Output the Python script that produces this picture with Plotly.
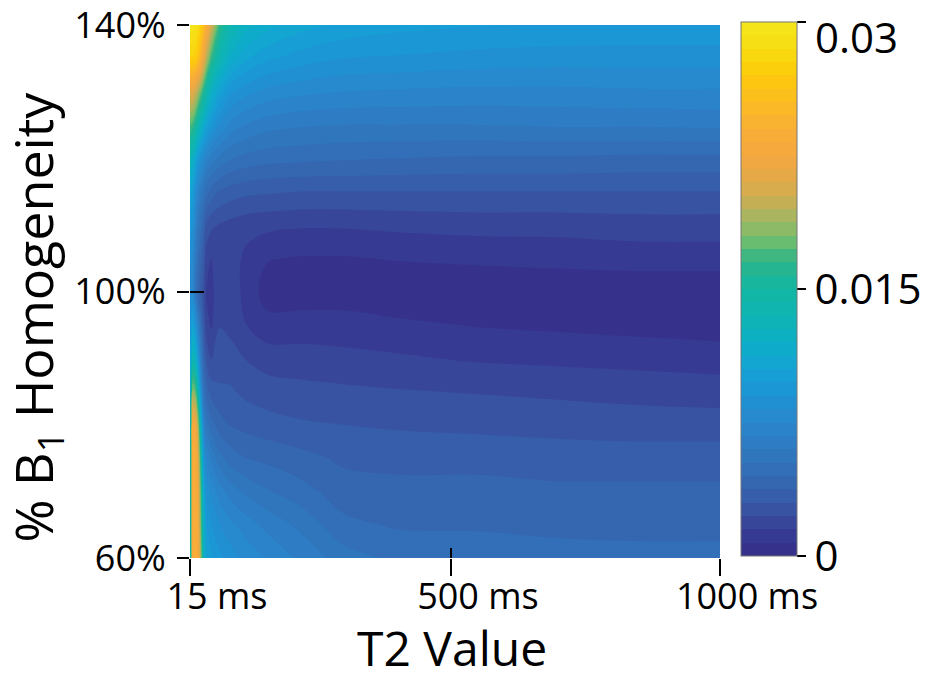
import plotly.graph_objects as go

# T2 values (ms) along x, B1 homogeneity (%) along y
t2_ms = [15, 20, 25, 30, 35, 40, 45, 55, 70, 90, 120, 160, 220, 300, 400, 550, 700, 850, 1000]
b1_pct = [60, 65, 70, 75, 80, 85, 90, 95, 100, 105, 110, 115, 120, 125, 130, 135, 140]

# error values, one row per B1 level (bottom to top), columns follow t2_ms
row_60 = [0.0110, 0.0235, 0.0240, 0.0230, 0.0190, 0.0130, 0.0105, 0.0098, 0.0092, 0.0086, 0.0080, 0.0074, 0.0066, 0.0056, 0.0051, 0.0049, 0.0048, 0.0047, 0.0047]
row_65 = [0.0115, 0.0235, 0.0240, 0.0225, 0.0180, 0.0125, 0.0098, 0.0090, 0.0083, 0.0077, 0.0071, 0.0065, 0.0058, 0.0047, 0.0044, 0.0044, 0.0043, 0.0043, 0.0043]
row_70 = [0.0115, 0.0235, 0.0238, 0.0220, 0.0172, 0.0112, 0.0088, 0.0080, 0.0071, 0.0064, 0.0058, 0.0053, 0.0048, 0.0041, 0.0040, 0.0040, 0.0039, 0.0039, 0.0039]
row_75 = [0.0115, 0.0235, 0.0235, 0.0210, 0.0158, 0.0095, 0.0075, 0.0065, 0.0055, 0.0049, 0.0045, 0.0043, 0.0040, 0.0036, 0.0035, 0.0035, 0.0034, 0.0034, 0.0034]
row_80 = [0.0110, 0.0230, 0.0225, 0.0190, 0.0128, 0.0075, 0.0058, 0.0048, 0.0041, 0.0037, 0.0035, 0.0033, 0.0031, 0.0030, 0.0029, 0.0028, 0.0027, 0.0026, 0.0026]
row_85 = [0.0105, 0.0185, 0.0175, 0.0138, 0.0090, 0.0055, 0.0042, 0.0034, 0.0031, 0.0031, 0.0028, 0.0026, 0.0025, 0.0024, 0.0023, 0.0022, 0.0021, 0.0020, 0.0019]
row_90 = [0.0100, 0.0135, 0.0125, 0.0098, 0.0065, 0.0042, 0.0030, 0.0022, 0.0027, 0.0026, 0.0022, 0.0019, 0.0018, 0.0017, 0.0016, 0.0014, 0.0013, 0.0012, 0.0011]
row_95 = [0.0090, 0.0105, 0.0090, 0.0070, 0.0048, 0.0032, 0.0018, 0.0014, 0.0022, 0.0020, 0.0015, 0.0010, 0.0011, 0.0011, 0.0009, 0.0007, 0.0006, 0.0005, 0.0004]
row_100 = [0.0080, 0.0080, 0.0058, 0.0042, 0.0034, 0.0026, 0.0015, 0.0013, 0.0020, 0.0020, 0.0012, 0.0004, 0.0003, 0.0003, 0.0002, 0.0002, 0.0002, 0.0002, 0.0002]
row_105 = [0.0085, 0.0080, 0.0062, 0.0048, 0.0039, 0.0032, 0.0018, 0.0015, 0.0020, 0.0019, 0.0013, 0.0008, 0.0007, 0.0007, 0.0008, 0.0009, 0.0010, 0.0011, 0.0011]
row_110 = [0.0095, 0.0090, 0.0072, 0.0058, 0.0048, 0.0040, 0.0030, 0.0024, 0.0022, 0.0020, 0.0018, 0.0017, 0.0016, 0.0016, 0.0017, 0.0018, 0.0018, 0.0019, 0.0019]
row_115 = [0.0110, 0.0100, 0.0085, 0.0072, 0.0062, 0.0055, 0.0048, 0.0042, 0.0037, 0.0034, 0.0032, 0.0031, 0.0030, 0.0030, 0.0030, 0.0030, 0.0030, 0.0030, 0.0030]
row_120 = [0.0135, 0.0125, 0.0110, 0.0097, 0.0087, 0.0079, 0.0072, 0.0064, 0.0058, 0.0053, 0.0050, 0.0048, 0.0047, 0.0046, 0.0045, 0.0044, 0.0044, 0.0043, 0.0043]
row_125 = [0.0172, 0.0168, 0.0156, 0.0142, 0.0129, 0.0117, 0.0107, 0.0094, 0.0082, 0.0073, 0.0067, 0.0063, 0.0061, 0.0060, 0.0060, 0.0060, 0.0061, 0.0061, 0.0062]
row_130 = [0.0212, 0.0212, 0.0203, 0.0190, 0.0176, 0.0161, 0.0145, 0.0123, 0.0105, 0.0092, 0.0085, 0.0080, 0.0077, 0.0075, 0.0074, 0.0073, 0.0073, 0.0074, 0.0074]
row_135 = [0.0275, 0.0276, 0.0272, 0.0262, 0.0242, 0.0220, 0.0197, 0.0165, 0.0137, 0.0118, 0.0106, 0.0099, 0.0094, 0.0090, 0.0089, 0.0087, 0.0086, 0.0086, 0.0086]
row_140 = [0.0297, 0.0297, 0.0293, 0.0287, 0.0275, 0.0260, 0.0240, 0.0205, 0.0165, 0.0138, 0.0123, 0.0115, 0.0108, 0.0103, 0.0100, 0.0098, 0.0097, 0.0096, 0.0096]

x_tickvals = [15, 500, 1000]
x_ticktext = ["15 ms", "500 ms", "1000 ms"]
y_tickvals = [60, 100, 140]
y_ticktext = ["60%", "100%", "140%"]
c_tickvals = [0, 0.015, 0.03]
c_ticktext = ["0", "0.015", ""]
c_top_label = "0.03"

z = [row_60, row_65, row_70, row_75, row_80, row_85, row_90, row_95, row_100,
     row_105, row_110, row_115, row_120, row_125, row_130, row_135, row_140]

colorscale = [
    [0.00, "#352c86"], [0.05, "#383f96"], [0.10, "#3859a6"], [0.15, "#346bb5"],
    [0.20, "#2f79c0"], [0.25, "#2a86cc"], [0.30, "#1e93d5"], [0.35, "#14a3d5"],
    [0.40, "#0cafc6"], [0.45, "#0fb4b3"], [0.50, "#11b6a3"], [0.55, "#2bb48a"],
    [0.59, "#6dbe6e"], [0.62, "#98b964"], [0.65, "#b8b15a"], [0.68, "#d4ac4f"],
    [0.72, "#e9aa45"], [0.75, "#f5a83f"], [0.80, "#f9ae36"], [0.85, "#fcbc22"],
    [0.90, "#fdca0b"], [0.95, "#f7dc12"], [1.00, "#f5e71d"],
]

FONT = "Open Sans"

fig = go.Figure()
fig.add_trace(go.Contour(
    x=t2_ms, y=b1_pct, z=z,
    zmin=0, zmax=0.03,
    autocontour=False,
    contours=dict(start=0, end=0.03, size=0.00075, coloring="fill", showlines=False),
    line=dict(width=0),
    colorscale=colorscale,
    colorbar=dict(
        thickness=56, thicknessmode="pixels",
        len=534, lenmode="pixels",
        x=1.0396, xanchor="left", xpad=0,
        y=0.5047, yanchor="middle", ypad=0,
        outlinewidth=1, outlinecolor="#777777",
        ticks="outside", ticklen=9, tickwidth=1.5, tickcolor="black",
        tickvals=c_tickvals, ticktext=c_ticktext,
        tickfont=dict(family=FONT, size=42, color="black"),
        ticklabeloverflow="allow",
    ),
    hoverinfo="skip",
))
# empty helper trace so the overlay axes (inner half of the tick marks) are drawn
fig.add_trace(go.Scatter(x=[], y=[], xaxis="x2", yaxis="y2", showlegend=False,
                         hoverinfo="skip"))

fig.update_layout(
    width=925, height=679,
    margin=dict(l=190, r=205, t=25, b=121, autoexpand=False),
    paper_bgcolor="white", plot_bgcolor="white",
    showlegend=False,
    xaxis=dict(
        range=[15, 1000], tickvals=x_tickvals, ticktext=x_ticktext,
        ticks="outside", ticklen=17, tickwidth=1.5, tickcolor="black",
        showline=False, showgrid=False, zeroline=False,
        tickfont=dict(family=FONT, size=36, color="black"),
        ticklabelshift=27, ticklabelstandoff=-10, ticklabeloverflow="allow",
    ),
    xaxis2=dict(
        range=[15, 1000], tickvals=x_tickvals, overlaying="x", anchor="y2",
        side="bottom", ticks="inside", ticklen=10, tickwidth=1.5, tickcolor="black",
        showticklabels=False, showline=False, showgrid=False, zeroline=False,
    ),
    yaxis=dict(
        range=[60, 140], tickvals=y_tickvals, ticktext=y_ticktext,
        ticks="outside", ticklen=12, tickwidth=1.5, tickcolor="black",
        showline=False, showgrid=False, zeroline=False,
        tickfont=dict(family=FONT, size=36, color="black"),
        ticklabelstandoff=4, ticklabeloverflow="allow",
    ),
    yaxis2=dict(
        range=[60, 140], tickvals=y_tickvals, overlaying="y", anchor="x2",
        side="left", ticks="inside", ticklen=14, tickwidth=1.5, tickcolor="black",
        showticklabels=False, showline=False, showgrid=False, zeroline=False,
    ),
    annotations=[
        dict(text="T2 Value", xref="paper", yref="paper", x=0.495, y=-0.168,
             xanchor="center", yanchor="middle", showarrow=False,
             font=dict(family=FONT, size=48, color="black")),
        dict(text="% B<sub>1</sub> Homogeneity", xref="paper", yref="paper",
             x=-0.29, y=0.452, xanchor="center", yanchor="middle",
             textangle=-90, showarrow=False,
             font=dict(family=FONT, size=52, color="black")),
        dict(text=c_top_label, xref="paper", yref="paper", x=1.176, y=0.979,
             xanchor="left", yanchor="middle", showarrow=False,
             font=dict(family=FONT, size=42, color="black")),
    ],
)

fig.write_html("out.html")
